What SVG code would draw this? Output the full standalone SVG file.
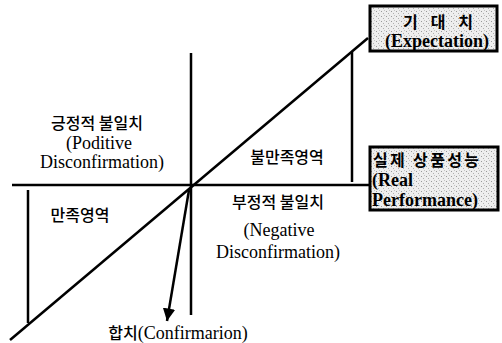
<svg xmlns="http://www.w3.org/2000/svg" width="502" height="343" viewBox="0 0 502 343">
<defs>
<pattern id="stip" width="5" height="5" patternUnits="userSpaceOnUse">
<rect width="5" height="5" fill="#eeeeee"/>
<rect x="1" y="1" width="1" height="1" fill="#9a9a9a"/>
<rect x="3" y="3" width="1" height="1" fill="#b0b0b0"/>
<rect x="4" y="0" width="1" height="1" fill="#c4c4c4"/>
</pattern>
<marker id="ah" viewBox="0 0 10 10" refX="10" refY="5" markerWidth="5" markerHeight="5" markerUnits="strokeWidth" orient="auto">
<path d="M0,0 L10,5 L0,10 Z" fill="#000"/>
</marker>
</defs>
<style>
.ln{stroke:#000;stroke-width:2.5;fill:none}
.t{font-size:18px;fill:#000}
.k{font-size:16px;fill:#000;font-weight:500}
.b{font-weight:bold}
.box{fill:url(#stip);stroke:#000;stroke-width:3}
</style>
<rect width="502" height="343" fill="#fff"/>
<g id="connectors">
<line class="ln" x1="12" y1="185" x2="369" y2="185"/>
<line class="ln" x1="191" y1="53" x2="191" y2="315"/>
<line class="ln" x1="10" y1="340" x2="368" y2="38"/>
<line class="ln" x1="28" y1="190" x2="28" y2="323"/>
<line class="ln" x1="352" y1="52" x2="352" y2="182"/>
<line class="ln" x1="189" y1="190" x2="167" y2="321" marker-end="url(#ah)"/>
</g>
<g id="expectation">
<rect class="box" x="370" y="6" width="127" height="45"/>
<text class="k b" font-family="Noto Sans CJK KR, sans-serif" x="438" y="28" text-anchor="middle" textLength="70">기 대 치</text>
<text class="t b" font-family="Liberation Serif, serif" x="437" y="47" text-anchor="middle">(Expectation)</text>
</g>
<g id="performance">
<rect class="box" x="370" y="147" width="128" height="63"/>
<text class="k b" font-family="Noto Sans CJK KR, sans-serif" x="373" y="166" textLength="106">실제 상품성능</text>
<text class="t b" font-family="Liberation Serif, serif" x="372" y="186">(Real</text>
<text class="t b" font-family="Liberation Serif, serif" x="372" y="206">Performance)</text>
</g>
<g id="positive">
<text class="k" font-family="Noto Sans CJK KR, sans-serif" x="97" y="129" text-anchor="middle">긍정적 불일치</text>
<text class="t" font-family="Liberation Serif, serif" x="99" y="149" text-anchor="middle">(Poditive</text>
<text class="t" font-family="Liberation Serif, serif" x="102" y="168" text-anchor="middle">Disconfirmation)</text>
</g>
<g id="dissatisfaction">
<text class="k" font-family="Noto Sans CJK KR, sans-serif" x="287" y="163" text-anchor="middle">불만족영역</text>
</g>
<g id="satisfaction">
<text class="k" font-family="Noto Sans CJK KR, sans-serif" x="80" y="221" text-anchor="middle">만족영역</text>
</g>
<g id="negative">
<text class="k" font-family="Noto Sans CJK KR, sans-serif" x="278" y="208" text-anchor="middle">부정적 불일치</text>
<text class="t" font-family="Liberation Serif, serif" x="279" y="236" text-anchor="middle">(Negative</text>
<text class="t" font-family="Liberation Serif, serif" x="278" y="258" text-anchor="middle">Disconfirmation)</text>
</g>
<g id="confirmation">
<text font-size="18" font-family="Liberation Serif, serif" x="178" y="339" text-anchor="middle"><tspan font-family="Noto Sans CJK KR, sans-serif" font-size="16" font-weight="500">합치</tspan>(Confirmarion)</text>
</g>
</svg>
